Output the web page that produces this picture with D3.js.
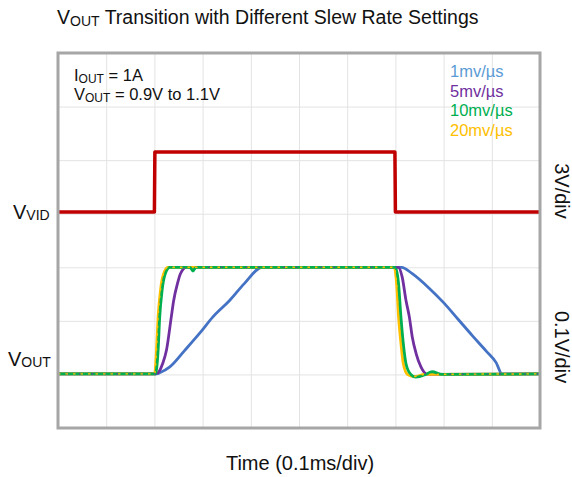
<!DOCTYPE html>
<html>
<head>
<meta charset="utf-8">
<script src="https://cdn.jsdelivr.net/npm/d3@7"></script>
<style>
  html, body { margin: 0; padding: 0; background: #fff; }
  svg { display: block; font-family: Arial, "Liberation Sans", sans-serif; }
</style>
</head>
<body>
<svg id="chart" width="572" height="477"></svg>
<script>
// Time axis: 10 divisions of 0.1 ms, values in microseconds
const timeTicks = d3.range(0, 1001, 100);
// Vertical grid: 7 divisions
const divTicks = d3.range(0, 8, 1);

// VID logic signal (volts, 3 V/div)
const vidTrace = [[0, 0.1], [200, 0.1], [201, 3.45], [699, 3.45], [700, 0.1], [1000, 0.1]];

// VOUT traces (volts, 0.1 V/div) for each slew-rate setting
const slew1 = [[0, 0.901], [205, 0.901], [211, 0.903], [232, 0.914], [263, 0.945], [294, 0.977], [321, 1.007],
  [356, 1.038], [387, 1.07], [424, 1.1], [713, 1.1], [735, 1.088], [770, 1.061], [800, 1.034], [830, 1.003],
  [860, 0.972], [888, 0.944], [909, 0.922], [921, 0.901], [1000, 0.901]];
const slew5 = [[0, 0.901], [203, 0.901], [210, 0.906], [217, 0.92], [225, 0.945], [235, 1.007], [240, 1.038],
  [248, 1.07], [254, 1.088], [266, 1.1], [706, 1.1], [714, 1.082], [722, 1.038], [729, 1.007], [735, 0.97],
  [743, 0.939], [753, 0.914], [766, 0.9], [1000, 0.901]];
const slew10 = [[0, 0.901], [202, 0.901], [207.7, 0.945], [211, 1.007], [216, 1.057], [221.5, 1.085], [232, 1.1],
  [274, 1.1], [280, 1.093], [286, 1.1], [700, 1.1], [706.6, 1.069], [711.5, 1.007], [716.4, 0.958], [722, 0.92],
  [732, 0.9], [742.5, 0.895], [763, 0.9], [776, 0.905], [797, 0.9], [1000, 0.901]];
const slew20 = [[0, 0.901], [200.5, 0.901], [204.3, 0.945], [207.7, 1.007], [212.6, 1.057], [218, 1.085], [228, 1.1],
  [697.7, 1.1], [702.5, 1.069], [706.6, 1.007], [711.5, 0.958], [716.4, 0.92], [725.3, 0.9], [740, 0.896],
  [760, 0.9], [1000, 0.901]];

const seriesNames = ["1mv/µs", "5mv/µs", "10mv/µs", "20mv/µs"];
const seriesData = [slew1, slew5, slew10, slew20];
const lineColors = ["#4472c4", "#7030a0", "#00b050", "#ffc000"];
const legendColors = ["#5b9bd5", "#7030a0", "#00b050", "#ffc000"];
// stacking order of the VOUT traces (index into seriesData)
const drawOrder = [0, 1, 3, 2];

const svg = d3.select("#chart");
const plotLeft = 58, plotRight = 540, plotTop = 53, plotBottom = 428;

const x = d3.scaleLinear().domain([0, 1000]).range([plotLeft, plotRight]);
const y = d3.scaleLinear().domain([0, 7]).range([plotBottom, plotTop]);

// Channel offsets: VOUT 0.9 V sits on division 1, VID 0 V on division 4
const voutDiv = v => 1 + (v - 0.9) / 0.1;
const vidDiv = v => 4 + v / 3;

// Grid
svg.append("g")
  .attr("transform", `translate(0,${plotBottom})`)
  .call(d3.axisBottom(x).tickValues(timeTicks).tickSize(-(plotBottom - plotTop)).tickFormat(""))
  .call(g => g.select(".domain").remove())
  .call(g => g.selectAll("line").attr("stroke", "#e3e3e3").attr("stroke-width", 1));
svg.append("g")
  .attr("transform", `translate(${plotLeft},0)`)
  .call(d3.axisLeft(y).tickValues(divTicks).tickSize(-(plotRight - plotLeft)).tickFormat(""))
  .call(g => g.select(".domain").remove())
  .call(g => g.selectAll("line").attr("stroke", "#e3e3e3").attr("stroke-width", 1));

// VID trace
const vidLine = d3.line().x(d => x(d[0])).y(d => y(vidDiv(d[1])));
svg.append("path").datum(vidTrace)
  .attr("d", vidLine)
  .attr("fill", "none").attr("stroke", "#c00000").attr("stroke-width", 3.5)
  .attr("stroke-linejoin", "round");

// VOUT traces
const voutLine = d3.line().x(d => x(d[0])).y(d => y(voutDiv(d[1]))).curve(d3.curveMonotoneX);
drawOrder.forEach(i => {
  svg.append("path").datum(seriesData[i])
    .attr("d", voutLine)
    .attr("fill", "none").attr("stroke", lineColors[i]).attr("stroke-width", 2.8)
    .attr("stroke-linejoin", "round");
});
// thin dotted overlays so the stacked flat sections show every colour
svg.append("path").datum(slew5)
  .attr("d", voutLine)
  .attr("fill", "none").attr("stroke", lineColors[1]).attr("stroke-width", 1.2)
  .attr("stroke-dasharray", "1.5,11").attr("stroke-dashoffset", 4);
svg.append("path").datum(slew20)
  .attr("d", voutLine)
  .attr("fill", "none").attr("stroke", lineColors[3]).attr("stroke-width", 1.4)
  .attr("stroke-dasharray", "2.5,5");

// Frame
svg.append("rect")
  .attr("x", plotLeft).attr("y", plotTop)
  .attr("width", plotRight - plotLeft).attr("height", plotBottom - plotTop)
  .attr("fill", "none").attr("stroke", "#a6a6a6").attr("stroke-width", 3);

// Title
const title = svg.append("text").attr("x", 57).attr("y", 24)
  .attr("font-size", 19.5).attr("fill", "#111");
title.append("tspan").text("V");
title.append("tspan").attr("font-size", 14).attr("dy", 1.5).text("OUT");
title.append("tspan").attr("dy", -1.5).text(" Transition with Different Slew Rate Settings");

// Conditions
const c1 = svg.append("text").attr("x", 74).attr("y", 81).attr("font-size", 16.5).attr("fill", "#111");
c1.append("tspan").text("I");
c1.append("tspan").attr("font-size", 12).attr("dy", 2).text("OUT");
c1.append("tspan").attr("dy", -2).text(" = 1A");
const c2 = svg.append("text").attr("x", 74).attr("y", 100).attr("font-size", 16.5).attr("fill", "#111");
c2.append("tspan").text("V");
c2.append("tspan").attr("font-size", 12).attr("dy", 2).text("OUT");
c2.append("tspan").attr("dy", -2).text(" = 0.9V to 1.1V");

// Legend
svg.append("g").selectAll("text").data(seriesNames).join("text")
  .attr("x", 450).attr("y", (d, i) => 77 + i * 19.5)
  .attr("font-size", 16.5).attr("fill", (d, i) => legendColors[i])
  .text(d => d);

// Channel labels
const lv = svg.append("text").attr("x", 13).attr("y", 219).attr("font-size", 20).attr("fill", "#111");
lv.append("tspan").text("V");
lv.append("tspan").attr("font-size", 14).attr("dy", 1).text("VID");
const lo = svg.append("text").attr("x", 8).attr("y", 366).attr("font-size", 20).attr("fill", "#111");
lo.append("tspan").text("V");
lo.append("tspan").attr("font-size", 14).attr("dy", 1).text("OUT");

// Scale labels
svg.append("text").attr("transform", "translate(555,191) rotate(90)")
  .attr("text-anchor", "middle").attr("font-size", 20).attr("fill", "#111").text("3V/div");
svg.append("text").attr("transform", "translate(555,347) rotate(90)")
  .attr("text-anchor", "middle").attr("font-size", 20).attr("fill", "#111").text("0.1V/div");

// Time label
svg.append("text").attr("x", 300).attr("y", 470)
  .attr("text-anchor", "middle").attr("font-size", 20).attr("fill", "#111").text("Time (0.1ms/div)");
</script>
</body>
</html>
